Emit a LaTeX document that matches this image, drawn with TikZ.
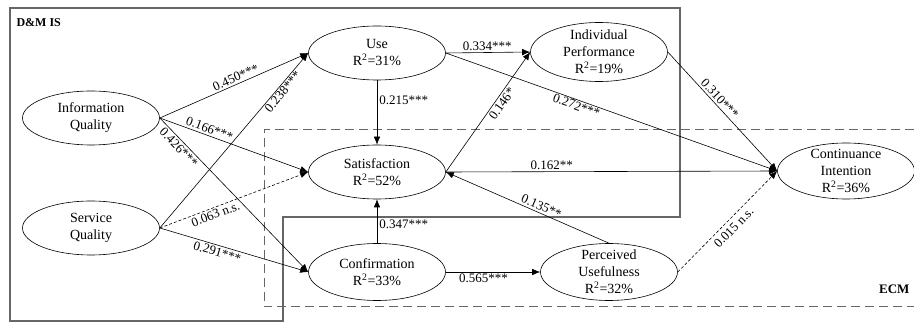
\documentclass[tikz,border=0pt]{standalone}
\usepackage{fontspec}
\setmainfont{Liberation Serif}
\usepackage{tikz}
\usetikzlibrary{shapes.geometric}
\usetikzlibrary{arrows.meta}
\usetikzlibrary{positioning}

\begin{document}
\begin{tikzpicture}[x=1pt,y=-1pt,
    latent/.style={draw, ellipse, line width=0.6pt, minimum width=137pt, minimum height=54pt,
        inner sep=-6pt, align=center, font=\fontsize{14}{17}\selectfont},
    link/.style={-{Latex[length=8pt,width=6.5pt]}, line width=0.6pt},
    coef/.style={font=\fontsize{13}{15}\selectfont, inner sep=2pt},
    groupline/.style={draw=black!60, line width=1.2pt}]
            \useasboundingbox (0,0) rectangle (914,323);

            % D&M IS block
            \draw[groupline] (10,8) -- (680,8) -- (680,217) -- (283,217) -- (283,321) -- (10,321) -- cycle;
            \node[anchor=west, font=\fontsize{12}{14}\selectfont\bfseries] (dmlabel) at (13,23) {D\&M IS};

            % ECM block
            \draw[groupline, line width=1pt, dash pattern=on 9pt off 5pt] (914,130) -- (264,130) -- (264,307) -- (914,307);
            \node[anchor=east, font=\fontsize{13}{15}\selectfont\bfseries] (ecmlabel) at (913,289) {ECM};

            % Constructs
            \node[latent] (iq) at (91,118) {Information\\Quality};
            \node[latent] (sq) at (91,228) {Service\\Quality};
            \node[latent] (use) at (377,53) {Use\\R\textsuperscript{2}=31\%};
            \node[latent] (sat) at (377,172) {Satisfaction\\R\textsuperscript{2}=52\%};
            \node[latent, minimum height=57pt] (conf) at (377,272) {Confirmation\\R\textsuperscript{2}=33\%};
            \node[latent, minimum height=59pt] (ip) at (599,52) {Individual\\Performance\\R\textsuperscript{2}=19\%};
            \node[latent, minimum height=57pt] (pu) at (609,272) {Perceived\\Usefulness\\R\textsuperscript{2}=32\%};
            \node[latent, minimum height=56pt] (ci) at (846,171) {Continuance\\Intention\\R\textsuperscript{2}=36\%};

            % Paths from quality constructs
            \draw[link] (iq.east) -- node[coef, sloped, above, pos=0.53] {0.450***} (use.west);
            \draw[link] (iq.east) -- node[coef, sloped, above, pos=0.32] {0.166***} (sat.west);
            \draw[link] (iq.east) -- node[coef, sloped, below, pos=0.16] {0.426***} (conf.west);
            \draw[link] (sq.east) -- node[coef, sloped, below, pos=0.8, inner sep=1pt] {0.238***} (use.west);
            \draw[link, dash pattern=on 3pt off 2pt] (sq.east) -- node[coef, sloped, below, pos=0.36] {0.063 n.s.} (sat.west);
            \draw[link] (sq.east) -- node[coef, sloped, below, pos=0.4] {0.291***} (conf.west);

            % Paths between outcome constructs
            \draw[link] (use.south) -- node[coef, right, pos=0.31] {0.215***} (sat.north);
            \draw[link] (use.east) -- node[coef, above, pos=0.49] {0.334***} (ip.west);
            \draw[link] (use.east) -- node[coef, sloped, below, pos=0.4, inner sep=1pt] {0.272***} (ci.west);
            \draw[link] (sat.east) -- node[coef, sloped, below, pos=0.6] {0.146*} (ip.west);
            \draw[link] (sat.east) -- node[coef, above, pos=0.32] {0.162**} (ci.west);
            \draw[link] (ip.east) -- node[coef, sloped, above, pos=0.43] {0.310***} (ci.west);
            \draw[link] (conf.north) -- node[coef, right, pos=0.42] {0.347***} (sat.south);
            \draw[link] (conf.east) -- node[coef, below, pos=0.4] {0.565***} (pu.west);
            \draw[link] (pu.north) -- node[coef, sloped, above, pos=0.43] {0.135**} (sat.east);
            \draw[link, dash pattern=on 3pt off 2pt] (pu.east) -- node[coef, sloped, below, pos=0.5, inner sep=4pt] {0.015 n.s.} (ci.west);

        \end{tikzpicture}
\end{document}
